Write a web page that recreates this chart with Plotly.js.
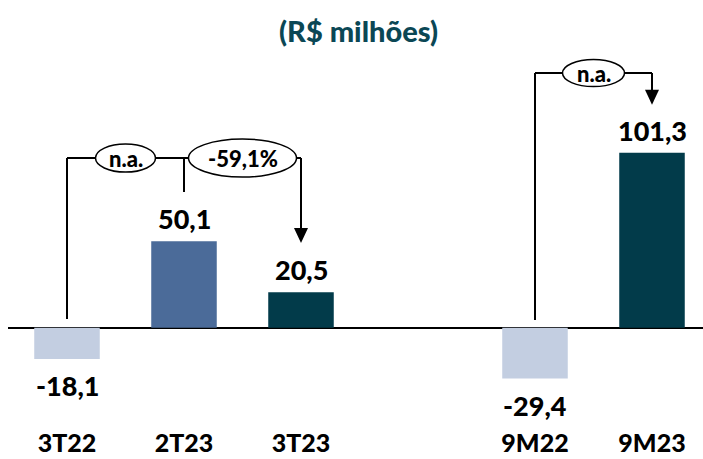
<!DOCTYPE html>
<html>
<head>
<meta charset="utf-8">
<script src="https://cdn.plot.ly/plotly-3.0.1.min.js"></script>
<style>html,body{margin:0;padding:0;background:#fff;}#chart{width:703px;height:459px;}</style>
</head>
<body>
<div id="chart"></div>
<script>
// ---- data ----
const categories = ['3T22', '2T23', '3T23', '9M22', '9M23'];
const values = [-18.1, 50.1, 20.5, -29.4, 101.3];
const valueLabels = ['-18,1', '50,1', '20,5', '-29,4', '101,3'];
const barColors = ['#C3CEE1', '#4B6B99', '#023B4A', '#C3CEE1', '#023B4A'];
const axisOrder = ['3T22', '2T23', '3T23', ' ', '9M22', '9M23'];
const changeLabels = ['n.a.', '-59,1%', 'n.a.'];
const titleText = '(R$ milhões)';

const FONT = 'Lato, "Open Sans", sans-serif';
const idx = c => axisOrder.indexOf(c);

const trace = {
  type: 'bar',
  x: categories,
  y: values,
  width: 0.56,
  marker: { color: barColors, line: { width: 0 } },
  hoverinfo: 'skip'
};

const annotations = categories.map((c, i) => ({
  x: c, y: values[i], xref: 'x', yref: 'y',
  text: valueLabels[i], showarrow: false,
  yanchor: values[i] >= 0 ? 'bottom' : 'top',
  yshift: values[i] >= 0 ? 4 : -8,
  font: { family: FONT, size: 27, color: '#000', weight: 900 }
}));

const shapes = [];
const black = { color: '#000', width: 2 };
function seg(x0, y0, x1, y1) {
  shapes.push({ type: 'line', xref: 'x', yref: 'y', x0, y0, x1, y1, line: black });
}
function arrowHead(x, y) {
  shapes.push({ type: 'path', xref: 'x', yref: 'y', xsizemode: 'pixel', ysizemode: 'pixel',
    xanchor: x, yanchor: y, path: 'M-7,15 L7,15 L0,0 Z', fillcolor: '#000', line: { width: 0 } });
}
function bubble(x, y, rx, ry, text) {
  shapes.push({ type: 'circle', xref: 'x', yref: 'y', xsizemode: 'pixel', ysizemode: 'pixel',
    xanchor: x, yanchor: y, x0: -rx, x1: rx, y0: -ry, y1: ry,
    fillcolor: '#fff', line: { color: '#000', width: 1.5 } });
  annotations.push({ x, y, xref: 'x', yref: 'y', text, showarrow: false,
    font: { family: FONT, size: 22, color: '#000', weight: 900 } });
}

// quarterly comparison connectors
const lvlQ = 98.2;
const a = idx('3T22'), b = idx('2T23'), c = idx('3T23');
seg(a, 5, a, lvlQ);
seg(a, lvlQ, c, lvlQ);
seg(b, 78.5, b, lvlQ);
seg(c, lvlQ, c, 55);
arrowHead(c, 49);
bubble((a + b) / 2, lvlQ, 30, 14, changeLabels[0]);
bubble((b + c) / 2, lvlQ, 54, 19, changeLabels[1]);

// 9M comparison connector
const lvlY = 147.4;
const d = idx('9M22'), e = idx('9M23');
seg(d, 4.5, d, lvlY);
seg(d, lvlY, e, lvlY);
seg(e, lvlY, e, 134);
arrowHead(e, 129);
bubble((d + e) / 2, lvlY, 31, 13.5, changeLabels[2]);

const layout = {
  width: 703, height: 459,
  margin: { l: 8, r: 0, t: 0, b: 36 },
  paper_bgcolor: '#fff', plot_bgcolor: '#fff',
  showlegend: false,
  title: { text: titleText, x: 0.51, xanchor: 'center', y: 1 - 32 / 459, yanchor: 'middle', yref: 'container',
    font: { family: FONT, size: 29, color: '#0B4755', weight: 900 } },
  xaxis: {
    type: 'category', categoryorder: 'array', categoryarray: axisOrder,
    range: [-0.5043, 5.4359], showgrid: false, zeroline: false, showline: false, ticks: '',
    tickfont: { family: FONT, size: 25, color: '#000', weight: 900 }, ticklabelstandoff: 3, fixedrange: true
  },
  yaxis: {
    range: [-55.16, 189.69], showgrid: false, showticklabels: false, ticks: '', showline: false,
    zeroline: true, zerolinecolor: '#000', zerolinewidth: 2, fixedrange: true
  },
  shapes, annotations
};

Plotly.newPlot('chart', [trace], layout, { staticPlot: true, displayModeBar: false });
</script>
</body>
</html>
